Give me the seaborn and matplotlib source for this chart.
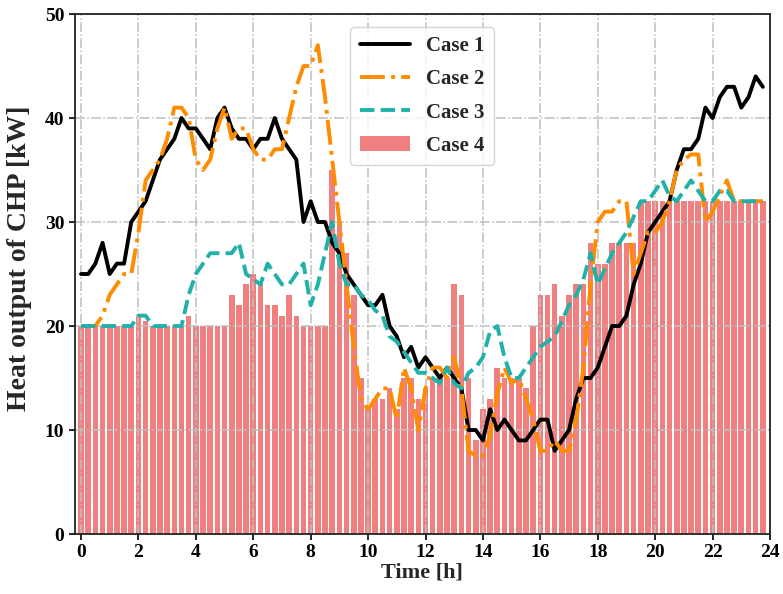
import matplotlib
matplotlib.use("Agg")
import matplotlib.pyplot as plt
import seaborn as sns

# time axis: 15 min resolution over one day
hours = [i * 0.25 for i in range(96)]

case1 = [25, 25, 26, 28, 25, 26, 26, 30, 31, 32, 34, 36, 37, 38, 40, 39,
         39, 38, 37, 40, 41, 39, 38, 38, 37, 38, 38, 40, 38, 37, 36, 30,
         32, 30, 30, 28, 27, 25, 24, 23, 22, 22, 23, 20, 19, 17, 18, 16,
         17, 16, 15, 16, 15, 14, 10, 10, 9, 12, 10, 11, 10, 9, 9, 10,
         11, 11, 8, 9, 10, 13, 15, 15, 16, 18, 20, 20, 21, 24, 26, 29,
         30, 31, 32, 35, 37, 37, 38, 41, 40, 42, 43, 43, 41, 42, 44, 43]

case2 = [20, 20, 20, 21, 23, 24, 25, 25, 29, 34, 35, 36, 38, 41, 41, 40,
         36, 35, 36, 39, 41, 38, 39, 39, 37, 36, 36, 37, 37, 40, 43, 45,
         45, 47, 42, 36, 30, 24, 18, 13, 12, 13, 14, 14, 11, 16, 14, 10,
         14, 16, 16, 15, 17, 14, 8, 7.5, 7.5, 9.5, 13.5, 16, 14.5, 15, 13, 11,
         8, 8, 9, 8, 8, 11, 16, 24, 30, 31, 31, 32, 32, 25, 27, 29,
         29, 30, 32, 35, 36, 36.5, 36.5, 30, 31, 32.5, 34, 32, 32, 32, 32, 32]

case3 = [20, 20, 20, 20, 20, 20, 20, 20, 21, 21, 20, 20, 20, 20, 20, 23,
         25, 26, 27, 27, 27, 27, 28, 25, 24.5, 24, 26, 25, 24, 24, 25, 26,
         22, 24, 27, 30, 26, 24, 24, 23, 22.5, 21.5, 21, 19, 18.5, 17.5, 16.5, 15.5,
         15.5, 15, 14.5, 16, 14.5, 14, 15.5, 16, 17, 19.5, 20, 17, 15, 15, 16, 17,
         18, 18.5, 19, 20.5, 22, 23, 24.5, 27, 24, 25.5, 27, 28, 29, 30.5, 32, 32,
         33, 34, 32.5, 32, 33, 34, 33, 32, 32, 33, 33, 32, 32, 32, 32, 32]

case4 = [20, 20, 20, 20, 20, 20, 20, 20, 21, 20.5, 20, 20, 20, 20, 20, 21,
         20, 20, 20, 20, 20, 23, 22, 24, 25, 24, 22, 22, 21, 23, 21, 20,
         20, 20, 20, 35, 30, 27, 23, 15, 12, 13, 13, 14, 12, 15, 15, 13,
         14, 15, 15, 15, 24, 23, 15, 9, 12, 13, 16, 15, 15, 15, 14, 20,
         23, 23, 24, 21, 23, 24, 24, 28, 26, 26, 28, 28, 28, 28, 32, 32,
         32, 32, 32, 32, 32, 32, 32, 32, 32, 32, 32, 32, 32, 32, 32, 32]

xticks = list(range(0, 25, 2))
yticks = list(range(0, 51, 10))

sns.set_theme(style="ticks")
plt.rcParams["font.family"] = ["Liberation Serif", "DejaVu Serif"]
plt.rcParams["font.weight"] = "bold"

fig, ax = plt.subplots(figsize=(7.83, 5.94), dpi=100)
fig.subplots_adjust(left=0.0954, right=0.9834, bottom=0.101, top=0.9764)

sns.barplot(x=hours, y=case4, native_scale=True, width=0.78,
            color="#F08080", saturation=1, errorbar=None, linewidth=0,
            label="Case 4", ax=ax)
sns.lineplot(x=hours, y=case1, color="black", lw=2.8, label="Case 1", ax=ax)
sns.lineplot(x=hours, y=case2, color="#FF8C00", lw=2.8, linestyle="-.",
             label="Case 2", ax=ax)
sns.lineplot(x=hours, y=case3, color="#20B2AA", lw=2.8, linestyle="--",
             label="Case 3", ax=ax)

ax.set_xlim(-0.22, 24)
ax.set_ylim(0, 50)
ax.set_xticks(xticks)
ax.set_yticks(yticks)
ax.set_xticklabels([str(v) for v in xticks], fontsize=14, fontweight="bold")
ax.set_yticklabels([str(v) for v in yticks], fontsize=14, fontweight="bold")
ax.set_xlabel("Time [h]", fontsize=16, fontweight="bold", labelpad=1)
ax.set_ylabel("Heat output of CHP [kW]", fontsize=20, fontweight="bold")
ax.yaxis.set_label_coords(-0.062, 0.53)

ax.set_axisbelow("line")
ax.grid(True, linestyle="-.", color="#bfbfbf", linewidth=1.1)
for s in ax.spines.values():
    s.set_visible(True)
    s.set_color("#222222")
    s.set_linewidth(1.3)
ax.tick_params(direction="out", length=4, width=1.2, colors="black")

h, l = ax.get_legend_handles_labels()
order = [l.index(n) for n in ["Case 1", "Case 2", "Case 3", "Case 4"]]
ax.legend([h[i] for i in order], [l[i] for i in order], loc="upper center",
          prop={"size": 15, "weight": "bold"}, handlelength=2.4,
          borderaxespad=0.6, labelspacing=0.64, borderpad=0.45)

plt.savefig("out.png", dpi=100)
